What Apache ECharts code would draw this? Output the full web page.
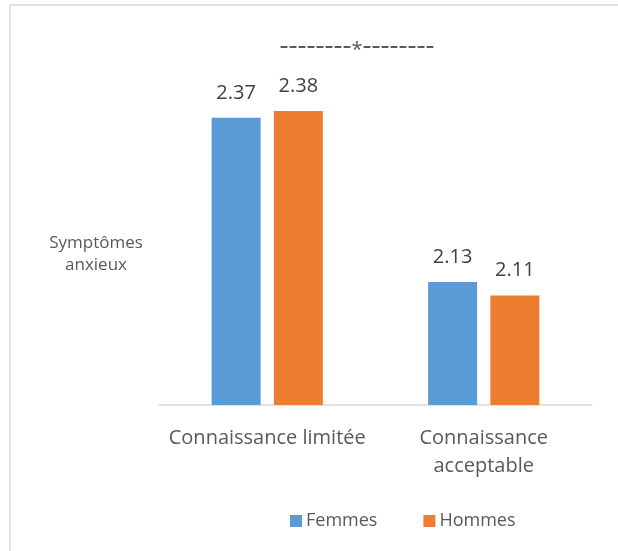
<!DOCTYPE html>
<html>
<head>
<meta charset="utf-8">
<style>
  html, body { margin: 0; padding: 0; background: #fff; }
  #chart { width: 618px; height: 551px; }
</style>
<script src="https://cdn.jsdelivr.net/npm/echarts@6/dist/echarts.min.js"></script>
</head>
<body>
<div id="chart"></div>
<script>
// Mean anxiety-symptom scores by knowledge level and sex
const categories = ['Connaissance limitée', 'Connaissance\nacceptable'];
const femmes = [2.37, 2.13];
const hommes = [2.38, 2.11];
const seriesNames = ['Femmes', 'Hommes'];
const yAxisTitle = 'Symptômes\nanxieux';
const sigDashes = '--------';
const sigStar = '*';

const FONT = '"Open Sans", "Noto Sans", sans-serif';
const TEXT = '#595959';

const chart = echarts.init(document.getElementById('chart'), null, { renderer: 'canvas' });

const barLabel = {
  show: true,
  position: 'top',
  distance: 15,
  color: '#404040',
  fontFamily: FONT,
  fontSize: 20,
  formatter: p => p.value.toFixed(2)
};

chart.setOption({
  backgroundColor: '#fff',
  animation: false,
  textStyle: { fontFamily: FONT },
  grid: { left: 159, right: 26, top: 29, bottom: 146 },
  graphic: [
    {
      type: 'rect',
      shape: { x: 10, y: 5, width: 640, height: 600 },
      style: { fill: 'none', stroke: '#d9d9d9', lineWidth: 1.5 },
      silent: true
    },
    {
      type: 'text',
      x: 96,
      y: 232,
      style: {
        text: yAxisTitle,
        fill: TEXT,
        font: '17px ' + FONT,
        align: 'center',
        verticalAlign: 'top',
        lineHeight: 22
      }
    },
    {
      type: 'text',
      x: 357,
      y: 45,
      style: {
        text: '{d|' + sigDashes + '}{s|' + sigStar + '}{d|' + sigDashes + '}',
        align: 'center',
        verticalAlign: 'middle',
        rich: {
          d: { fontSize: 28, fontFamily: FONT, fill: TEXT, color: TEXT, verticalAlign: 'bottom', lineHeight: 30 },
          s: { fontSize: 20, fontFamily: FONT, fill: TEXT, color: TEXT, verticalAlign: 'bottom', lineHeight: 30 }
        }
      }
    }
  ],
  legend: {
    data: seriesNames,
    left: 285,
    top: 507,
    itemWidth: 12,
    itemHeight: 12,
    itemGap: 46,
    icon: 'rect',
    textStyle: { color: TEXT, fontSize: 18, fontFamily: FONT, padding: [0, 0, 0, -1] }
  },
  xAxis: {
    type: 'category',
    data: categories,
    axisLine: { lineStyle: { color: '#d9d9d9', width: 1.5 } },
    axisTick: { show: false },
    axisLabel: {
      color: TEXT,
      fontSize: 20,
      fontFamily: FONT,
      margin: 19,
      lineHeight: 28,
      interval: 0
    }
  },
  yAxis: {
    type: 'value',
    min: 1.95,
    max: 2.5,
    show: false,
    splitLine: { show: false }
  },
  series: [
    {
      name: seriesNames[0],
      type: 'bar',
      data: femmes,
      barWidth: 49,
      barGap: '27%',
      itemStyle: { color: '#5B9BD5' },
      label: barLabel
    },
    {
      name: seriesNames[1],
      type: 'bar',
      data: hommes,
      barWidth: 49,
      itemStyle: { color: '#ED7D31' },
      label: barLabel
    }
  ]
});
</script>
</body>
</html>
